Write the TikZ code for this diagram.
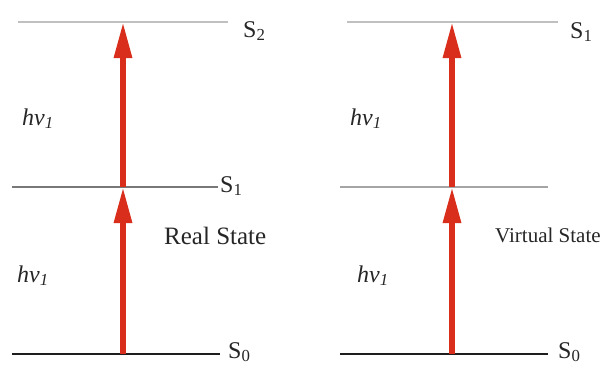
\documentclass[tikz,border=0pt]{standalone}
\usepackage{fontspec}
\setmainfont{Liberation Serif}
\usetikzlibrary{arrows.meta}
\definecolor{photonred}{RGB}{218,46,28}
\definecolor{lightlevel}{RGB}{192,192,192}
\definecolor{midlevel}{RGB}{120,120,120}
\definecolor{virtlevel}{RGB}{165,165,165}
\definecolor{groundlevel}{RGB}{30,30,30}
\newcommand{\hvone}{\textit{hv}\textsubscript{\textit{1}}}

\begin{document}
\begin{tikzpicture}[x=1pt, y=-1pt, every node/.style={inner sep=0pt, anchor=base west, text=black!85, font=\fontsize{24}{28}\selectfont},
  photon/.style={draw=photonred, line width=6pt, -{Triangle[length=36pt, width=17pt, fill=photonred]}},
  level/.style={line width=1.4pt}]
\useasboundingbox (0,0) rectangle (606,365);
% real state
\coordinate (rS2w) at (18,22);
\coordinate (rS2e) at (228,22);
\coordinate (rS1w) at (12,187);
\coordinate (rS1e) at (218,187);
\coordinate (rS0w) at (12,354);
\coordinate (rS0e) at (220,354);
\coordinate (r2) at (123,22);
\coordinate (r1) at (123,187);
\coordinate (r0) at (123,354);
\draw[level, lightlevel] (rS2w) -- (rS2e);
\draw[level, midlevel] (rS1w) -- (rS1e);
\draw[level, groundlevel, line width=2pt] (rS0w) -- (rS0e);
\draw[photon] (r0) -- (r1);
\draw[photon] (r1) -- (r2);
\node (rS2lbl) at (243,37) {S\textsubscript{2}};
\node (rS1lbl) at (220,192) {S\textsubscript{1}};
\node (rS0lbl) at (228,358) {S\textsubscript{0}};
\node (rhvup) at (22,125) {\hvone};
\node (rhvlo) at (17,282) {\hvone};
\node[font=\fontsize{25}{29}\selectfont] (rname) at (164,244) {Real State};
% virtual state
\coordinate (vS1w) at (347,22);
\coordinate (vS1e) at (558,22);
\coordinate (vVw) at (340,187);
\coordinate (vVe) at (548,187);
\coordinate (vS0w) at (340,354);
\coordinate (vS0e) at (548,354);
\coordinate (v2) at (452,22);
\coordinate (v1) at (452,187);
\coordinate (v0) at (452,354);
\draw[level, lightlevel] (vS1w) -- (vS1e);
\draw[level, virtlevel] (vVw) -- (vVe);
\draw[level, groundlevel, line width=2pt] (vS0w) -- (vS0e);
\draw[photon] (v0) -- (v1);
\draw[photon] (v1) -- (v2);
\node (vS1lbl) at (570,38) {S\textsubscript{1}};
\node (vS0lbl) at (558,358) {S\textsubscript{0}};
\node (vhvup) at (350,125) {\hvone};
\node (vhvlo) at (357,282) {\hvone};
\node[font=\fontsize{21}{25}\selectfont] (vname) at (495,242) {Virtual State};
\end{tikzpicture}
\end{document}
